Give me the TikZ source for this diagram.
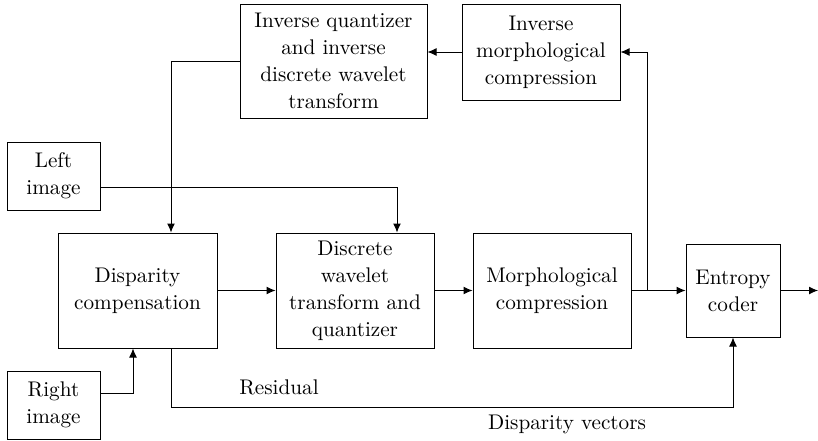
\documentclass[tikz,border=0pt]{standalone}
\usetikzlibrary{arrows.meta,positioning}

\begin{document}
\begin{tikzpicture}[x=0.5pt,y=-0.5pt,>={Latex[length=4.5pt,width=4pt]},line width=0.5pt,
  blk/.style={draw,align=center,inner sep=1pt,font=\fontsize{10.6}{13.5}\selectfont},
  lbl/.style={font=\fontsize{10.6}{13.5}\selectfont}]
  \useasboundingbox (0,0) rectangle (818,440);
  \node[blk,minimum width=79.5pt,minimum height=57.5pt] (disp) at (137.5,290.5) {Disparity\\compensation};
  \node[blk,minimum width=79pt,minimum height=57.5pt,right=29pt of disp] (dwt) {Discrete\\wavelet\\transform and\\quantizer};
  \node[blk,minimum width=79pt,minimum height=57.5pt,right=19pt of dwt] (morph) {Morphological\\compression};
  \node[blk,minimum width=47pt,minimum height=46.5pt,right=27pt of morph] (ent) {Entropy\\coder};
  \node[blk,minimum width=93.5pt,minimum height=57pt] (iq) at (333.5,61) {Inverse quantizer\\and inverse\\discrete wavelet\\transform};
  \node[blk,minimum width=79pt,minimum height=48pt] (im) at (541,52) {Inverse\\morphological\\compression};
  \node[blk,minimum width=46.5pt,minimum height=34pt] (left) at (53.5,176) {Left\\image};
  \node[blk,minimum width=46.5pt,minimum height=34pt] (right) at (53.5,405) {Right\\image};
  \coordinate (tap) at (647,290.5);
  \coordinate (out) at (818,290.5);
  \draw[->] (disp) -- (dwt);
  \draw[->] (dwt) -- (morph);
  \draw[->] (morph) -- (ent);
  \draw[->] (ent) -- (out);
  \draw[->] (tap) |- (im.east);
  \draw[->] (im.west) -- (im.west -| iq.east);
  \draw[->] (iq.west) -| ([xshift=16.75pt]disp.north);
  \draw[->] ([yshift=-5.5pt]left.east) -| ([xshift=21pt]dwt.north);
  \draw[->] ([yshift=6pt]right.east) -| ([xshift=-2.25pt]disp.south);
  \draw[->] ([xshift=16.75pt]disp.south) -- ++(0,59) -| (ent.south);
  \node[lbl] (res) at (279,387) {Residual};
  \node[lbl] (dv) at (567,424) {Disparity vectors};
\end{tikzpicture}
\end{document}
